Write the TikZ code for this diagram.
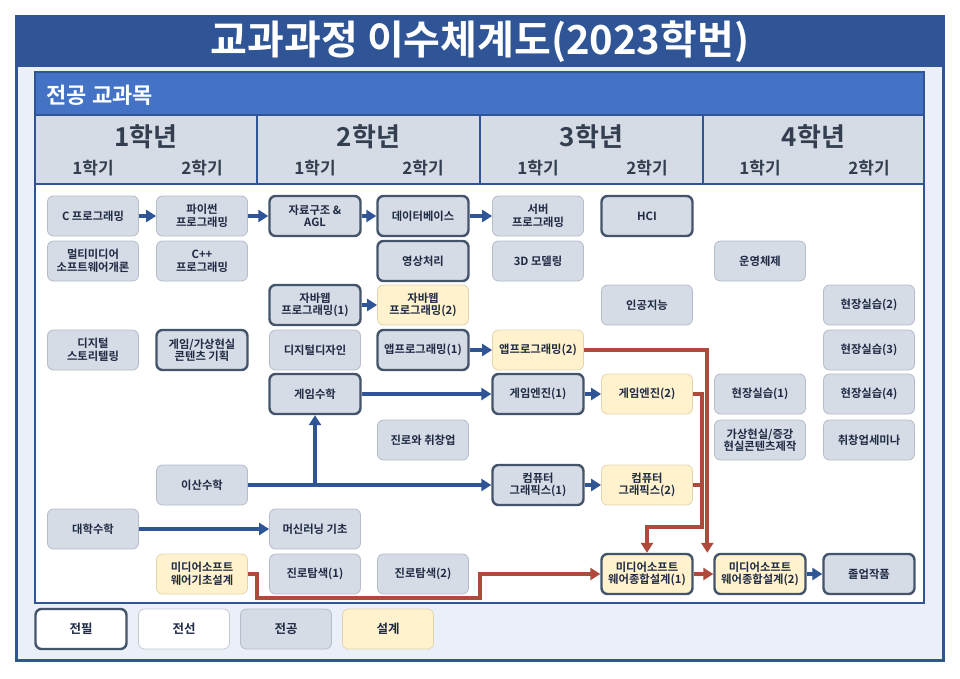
\documentclass[tikz,border=0pt]{standalone}
\usepackage{fontspec}
\setmainfont{Noto Sans CJK KR}[BoldFont={Noto Sans CJK KR Bold}]
\usetikzlibrary{arrows.meta}
\definecolor{navy}{HTML}{2F5597}
\definecolor{hdrblue}{HTML}{4472C4}
\definecolor{paleblue}{HTML}{EAEFF8}
\definecolor{greyfill}{HTML}{D6DCE5}
\definecolor{greyline}{HTML}{B4BDC9}
\definecolor{slate}{HTML}{44546A}
\definecolor{cream}{HTML}{FFF2CC}
\definecolor{creamline}{HTML}{E2D5AE}
\definecolor{rust}{HTML}{AE4A3B}
\definecolor{inktxt}{HTML}{1F2A44}
\definecolor{hdrtxt}{HTML}{333F50}
\begin{document}
\begin{tikzpicture}[x=1pt, y=-1pt,
  course/.style={rounded corners=6pt, minimum width=91pt, minimum height=40pt, inner sep=1pt,
    align=center, font=\fontsize{11.3}{12.5}\selectfont\bfseries, text=inktxt},
  gen/.style={course, fill=greyfill, draw=greyline, line width=0.8pt},
  req/.style={course, fill=greyfill, draw=slate, line width=2.4pt},
  dsgn/.style={course, fill=cream, draw=creamline, line width=0.8pt},
  dsgnreq/.style={course, fill=cream, draw=slate, line width=2.4pt},
  flow/.style={navy, line width=3.5pt, -{Triangle[length=10pt,width=12pt]}},
  capflow/.style={rust, line width=4pt, -{Triangle[length=10pt,width=12pt]}},
  semtxt/.style={font=\fontsize{17}{19}\selectfont\bfseries, text=hdrtxt},
]
\useasboundingbox (0,0) rectangle (960,678);
\fill[white!97!paleblue] (0,0) rectangle (960,678);

% frame and title
\draw[navy, line width=3pt, fill=paleblue] (16,16) rectangle (943,660);
\fill[navy] (16,16) rectangle (943,67);
\node[font=\fontsize{40}{42}\selectfont\bfseries, text=white] (title) at (480,42) {교과과정 이수체계도(2023학번)};

% panel
\fill[white] (35,184) rectangle (924,603);
\fill[hdrblue] (35,72) rectangle (924,115);
\node[anchor=west, font=\fontsize{22}{24}\selectfont\bfseries, text=white] (panel) at (43,95) {전공 교과목};
\foreach \xa/\xb/\yr/\ca/\cb in {35/257/1/93/202, 257/480/2/315/423, 480/703/3/538/647, 703/924/4/760/869} {
  \draw[navy, line width=2pt, fill=greyfill] (\xa,115) rectangle (\xb,184);
  \node[font=\fontsize{26}{28}\selectfont\bfseries, text=hdrtxt] (yr\yr) at ({(\xa+\xb)/2},137) {\yr{}학년};
  \node[semtxt] (semA\yr) at (\ca,168) {1학기};
  \node[semtxt] (semB\yr) at (\cb,168) {2학기};
}
\draw[navy, line width=2pt] (35,72) rectangle (924,603);

% courses
\node[gen] (cprog) at (93,216) {C 프로그래밍};
\node[gen] (python) at (202,216) {파이썬\\프로그래밍};
\node[req] (dsa) at (315,216) {자료구조 \&\\AGL};
\node[req] (db) at (423,216) {데이터베이스};
\node[gen] (server) at (538,216) {서버\\프로그래밍};
\node[req] (hci) at (647,216) {HCI};

\node[gen] (mm) at (93,261) {멀티미디어\\소프트웨어개론};
\node[gen] (cpp) at (202,261) {C++\\프로그래밍};
\node[req] (imgproc) at (423,261) {영상처리};
\node[gen] (model) at (538,261) {3D 모델링};
\node[gen] (os) at (760,261) {운영체제};

\node[req] (javaA) at (315,305) {자바웹\\프로그래밍(1)};
\node[dsgn] (javaB) at (423,305) {자바웹\\프로그래밍(2)};
\node[gen] (ai) at (647,305) {인공지능};
\node[gen] (fieldB) at (869,305) {현장실습(2)};

\node[gen] (story) at (93,350) {디지털\\스토리텔링};
\node[req] (gameplan) at (202,350) {게임/가상현실\\콘텐츠 기획};
\node[gen] (ddesign) at (315,350) {디지털디자인};
\node[req] (appA) at (423,350) {앱프로그래밍(1)};
\node[dsgn] (appB) at (538,350) {앱프로그래밍(2)};
\node[gen] (fieldC) at (869,350) {현장실습(3)};

\node[req] (gmath) at (315,394) {게임수학};
\node[req] (engA) at (538,394) {게임엔진(1)};
\node[dsgn] (engB) at (647,394) {게임엔진(2)};
\node[gen] (fieldA) at (760,394) {현장실습(1)};
\node[gen] (fieldD) at (869,394) {현장실습(4)};

\node[gen] (career) at (423,440) {진로와 취창업};
\node[gen] (vrar) at (760,440) {가상현실/증강\\현실콘텐츠제작};
\node[gen] (jobsem) at (869,440) {취창업세미나};

\node[gen] (discrete) at (202,485) {이산수학};
\node[req] (cgA) at (538,485) {컴퓨터\\그래픽스(1)};
\node[dsgn] (cgB) at (647,485) {컴퓨터\\그래픽스(2)};

\node[gen] (calc) at (93,529) {대학수학};
\node[gen] (ml) at (315,529) {머신러닝 기초};

\node[dsgn] (mbasic) at (202,574) {미디어소프트\\웨어기초설계};
\node[gen] (exploreA) at (315,574) {진로탐색(1)};
\node[gen] (exploreB) at (423,574) {진로탐색(2)};
\node[dsgnreq] (mcapA) at (647,574) {미디어소프트\\웨어종합설계(1)};
\node[dsgnreq] (mcapB) at (760,574) {미디어소프트\\웨어종합설계(2)};
\node[req] (grad) at (869,574) {졸업작품};

% prerequisite flow
\draw[flow] (cprog) -- (python);
\draw[flow] (python) -- (dsa);
\draw[flow] (dsa) -- (db);
\draw[flow] (db) -- (server);
\draw[flow] (javaA) -- (javaB);
\draw[flow] (appA) -- (appB);
\draw[flow] (gmath) -- (engA);
\draw[flow] (engA) -- (engB);
\draw[flow] (discrete) -- (cgA);
\draw[flow] (gmath.south |- discrete.east) -- (gmath.south);
\draw[flow] (cgA) -- (cgB);
\draw[flow] (calc) -- (ml);
\draw[flow] (mcapB) -- (grad);

% capstone flow
\coordinate (jn) at (702,527);
\coordinate (lowA) at (257,598);
\coordinate (lowB) at (480,598);
\draw[capflow] (appB.east) -| ([xshift=-6pt]mcapB.north west);
\draw[capflow] (engB.east) -| (jn) -| (mcapA.north);
\draw[rust, line width=4pt] (cgB.east) -- (cgB.east -| jn);
\draw[capflow] (mbasic.east) -| (lowA) -- (lowB) |- (mcapA.west);
\draw[capflow] (mcapA) -- (mcapB);

% legend
\node[req, fill=white, font=\fontsize{12.5}{14}\selectfont\bfseries] (lgReq) at (81,629) {전필};
\node[gen, fill=white, draw=greyline!80, font=\fontsize{12.5}{14}\selectfont\bfseries] (lgSel) at (184,629) {전선};
\node[gen, font=\fontsize{12.5}{14}\selectfont\bfseries] (lgMaj) at (286,629) {전공};
\node[dsgn, font=\fontsize{12.5}{14}\selectfont\bfseries] (lgDes) at (388,629) {설계};
\end{tikzpicture}
\end{document}
